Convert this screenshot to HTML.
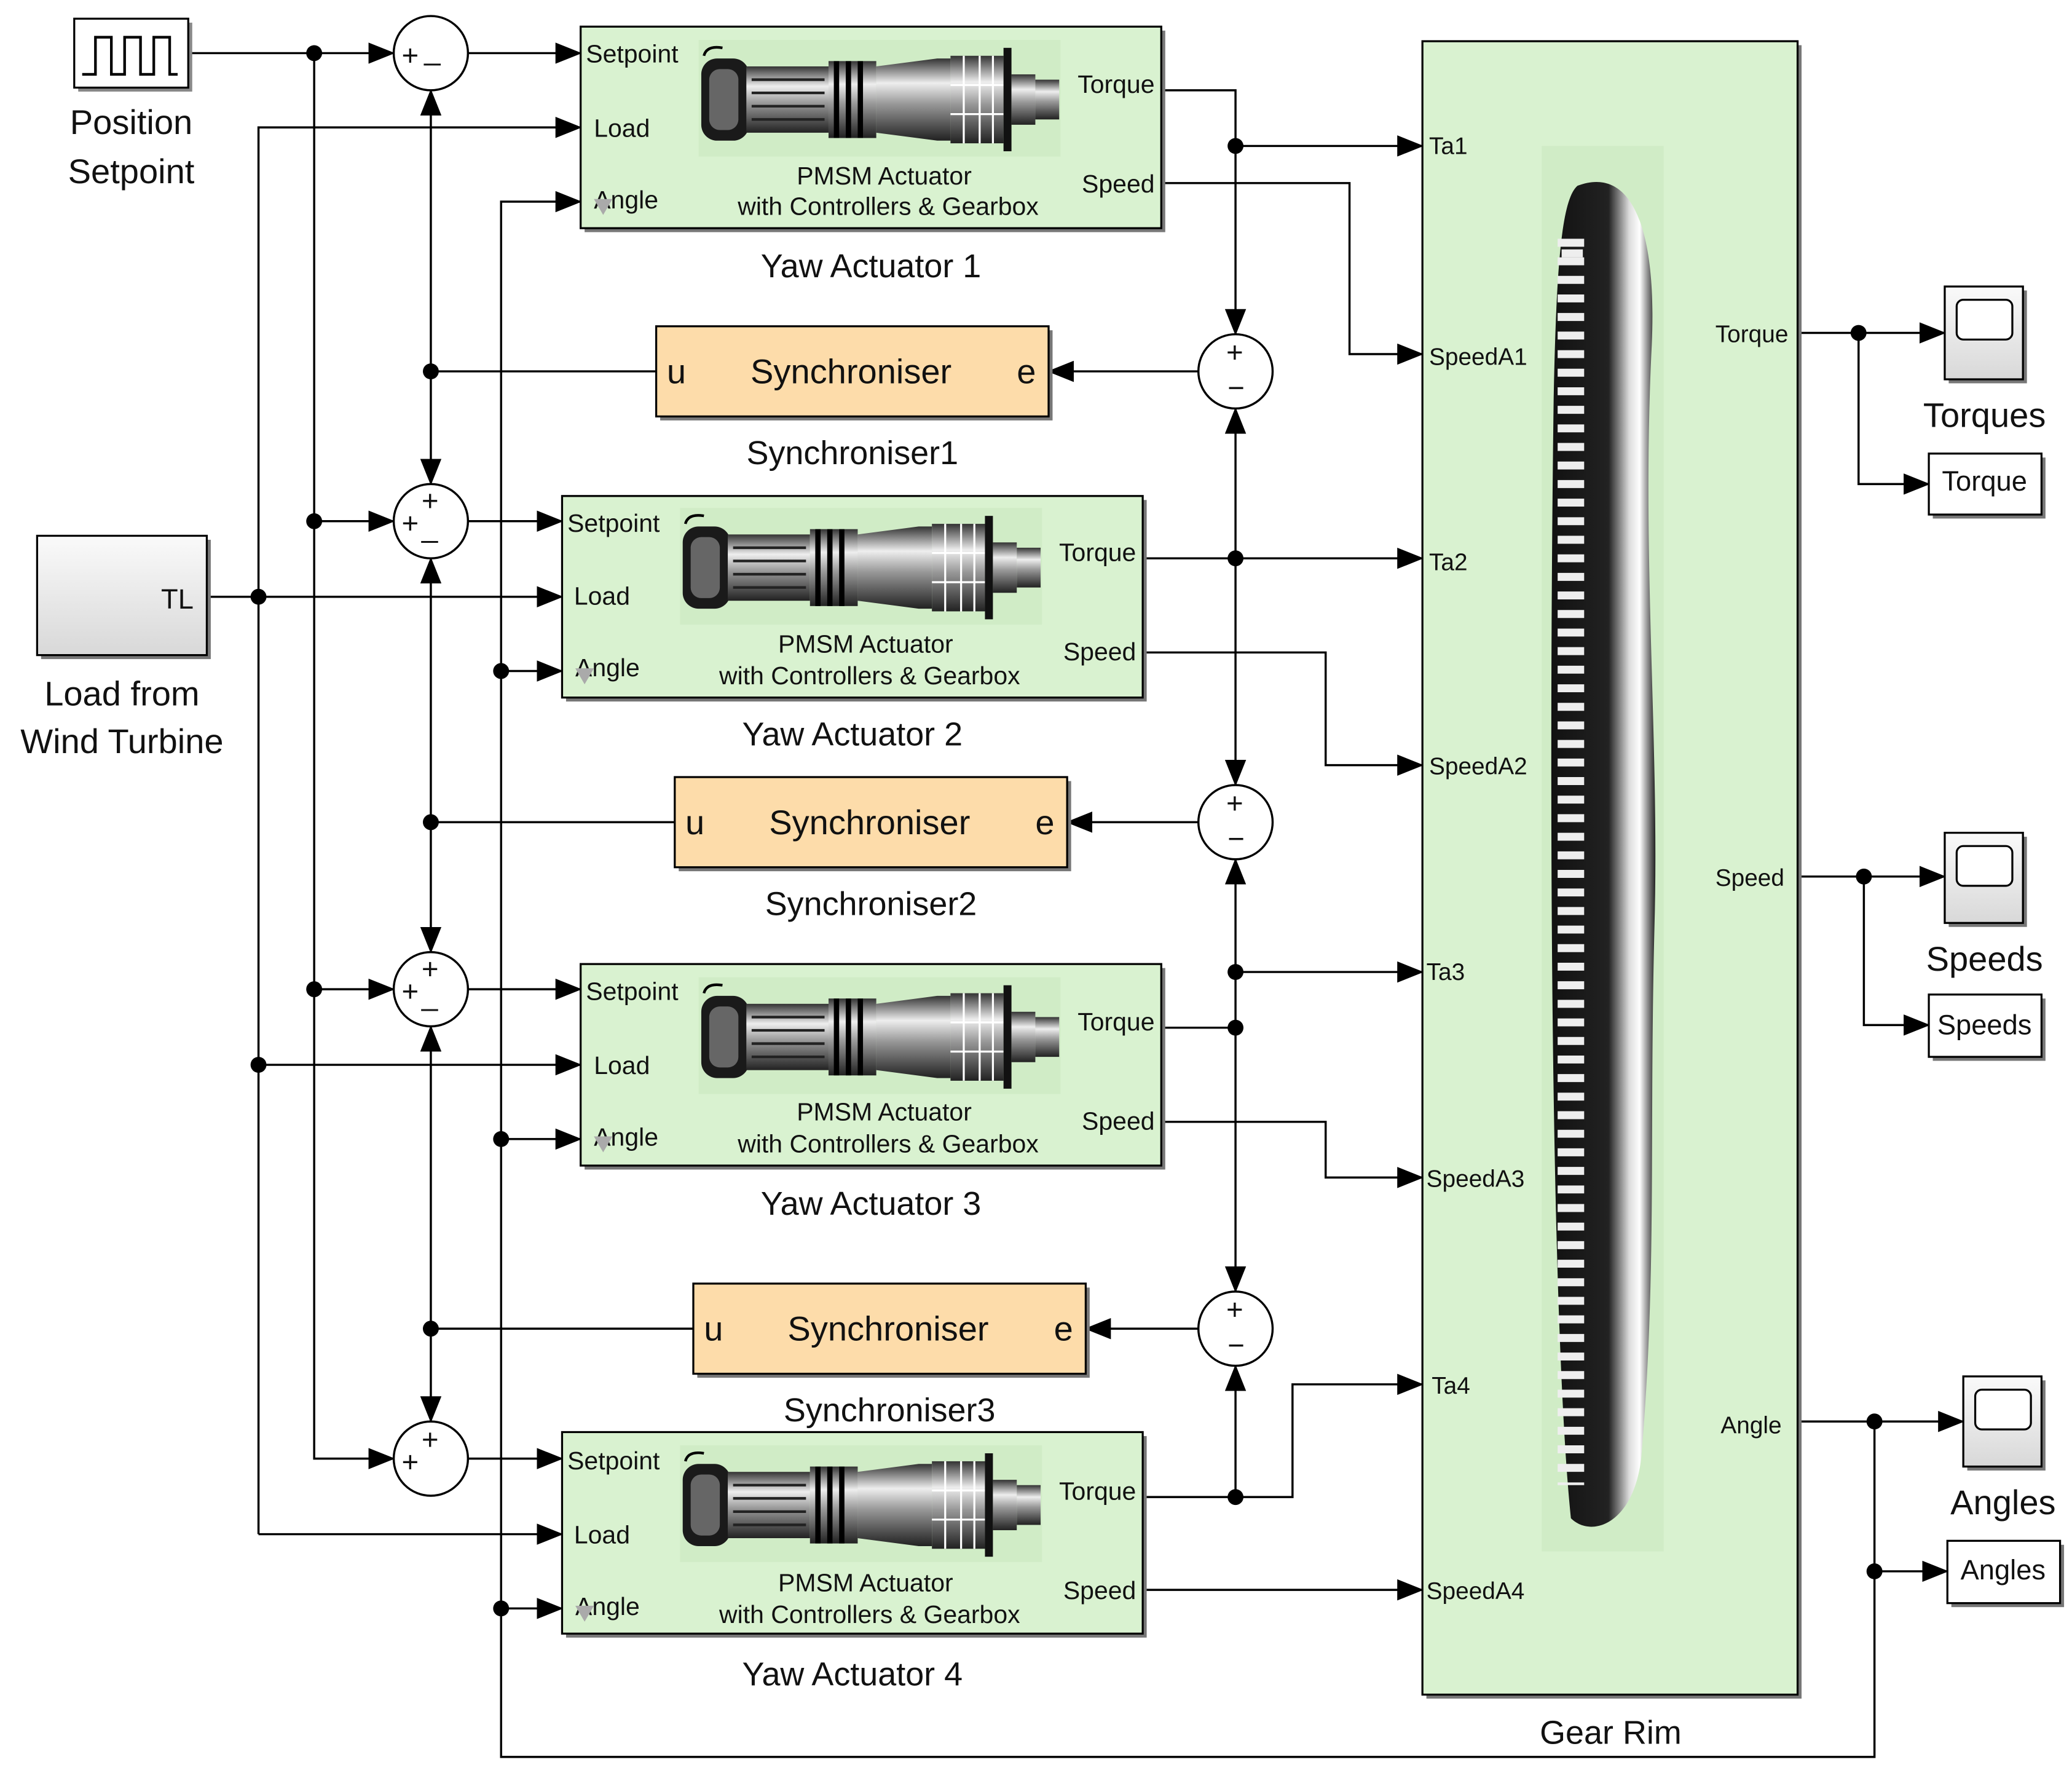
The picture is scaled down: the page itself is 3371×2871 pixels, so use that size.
<!DOCTYPE html>
<html><head><meta charset="utf-8"><style>
html,body{margin:0;padding:0;background:#fff;}
svg{display:block;}
text{font-family:"Liberation Sans",Arial,sans-serif;fill:#111;}
</style></head><body>
<svg width="3371" height="2871" viewBox="0 0 1563 1331" xmlns="http://www.w3.org/2000/svg">
<defs>
<marker id="a" markerWidth="20" markerHeight="16" refX="19" refY="8" orient="auto" markerUnits="userSpaceOnUse"><path d="M0,0 L20,8 L0,16 z" fill="#000"/></marker>
<linearGradient id="gb" x1="0" y1="0" x2="0" y2="1"><stop offset="0" stop-color="#fafafa"/><stop offset="1" stop-color="#d8d8d8"/></linearGradient>
<linearGradient id="cyl" x1="0" y1="0" x2="0" y2="1"><stop offset="0" stop-color="#333"/><stop offset="0.3" stop-color="#eee"/><stop offset="0.55" stop-color="#999"/><stop offset="1" stop-color="#222"/></linearGradient>
<linearGradient id="gear" x1="0" y1="0" x2="1" y2="0"><stop offset="0" stop-color="#111"/><stop offset="0.55" stop-color="#222"/><stop offset="0.75" stop-color="#ddd"/><stop offset="0.85" stop-color="#fff"/><stop offset="1" stop-color="#222"/></linearGradient>
<g id="motor">
<rect x="0" y="0" width="273" height="88" fill="#d0ecc6"/>
<rect x="2" y="14" width="36" height="62" rx="12" fill="#1a1a1a"/>
<rect x="8" y="22" width="22" height="46" rx="8" fill="#666"/>
<rect x="36" y="20" width="62" height="50" fill="url(#cyl)"/>
<g stroke="#222" stroke-width="2"><line x1="40" y1="30" x2="95" y2="30"/><line x1="40" y1="40" x2="95" y2="40"/><line x1="40" y1="50" x2="95" y2="50"/><line x1="40" y1="60" x2="95" y2="60"/></g>
<rect x="98" y="16" width="36" height="58" fill="url(#cyl)"/>
<g stroke="#000" stroke-width="4"><line x1="104" y1="16" x2="104" y2="74"/><line x1="113" y1="16" x2="113" y2="74"/><line x1="122" y1="16" x2="122" y2="74"/></g>
<path d="M134,20 L180,14 L190,14 L190,76 L180,76 L134,70 z" fill="url(#cyl)"/>
<rect x="190" y="12" width="40" height="66" fill="url(#cyl)"/>
<g stroke="#fff" stroke-width="1.5"><line x1="200" y1="12" x2="200" y2="78"/><line x1="212" y1="12" x2="212" y2="78"/><line x1="222" y1="12" x2="222" y2="78"/><line x1="190" y1="34" x2="230" y2="34"/><line x1="190" y1="56" x2="230" y2="56"/></g>
<rect x="230" y="6" width="6" height="78" fill="#111"/>
<rect x="236" y="26" width="18" height="38" fill="url(#cyl)"/>
<rect x="254" y="30" width="18" height="30" fill="url(#cyl)"/>
<path d="M4,12 Q6,4 18,6" stroke="#000" stroke-width="2" fill="none"/>
</g>
</defs>

<g stroke="#000" stroke-width="1.6" fill="none">
<!-- setpoint -->
<path d="M142,40 H297" marker-end="url(#a)"/>
<path d="M237,40 V1100 H297" marker-end="url(#a)"/>
<path d="M237,393 H297" marker-end="url(#a)"/>
<path d="M237,746 H297" marker-end="url(#a)"/>
<!-- sums to setpoint -->
<path d="M353,40 H438" marker-end="url(#a)"/>
<path d="M353,393 H424" marker-end="url(#a)"/>
<path d="M353,746 H438" marker-end="url(#a)"/>
<path d="M353,1100 H424" marker-end="url(#a)"/>
<!-- load -->
<path d="M156,450 H424" marker-end="url(#a)"/>
<path d="M195,1157 V96 H438" marker-end="url(#a)"/>
<path d="M195,803 H438" marker-end="url(#a)"/>
<path d="M195,1157 H424" marker-end="url(#a)"/>
<!-- angle -->
<path d="M1414,1074 V1325 H378 V152 H438" marker-end="url(#a)"/>
<path d="M378,506 H424" marker-end="url(#a)"/>
<path d="M378,859 H438" marker-end="url(#a)"/>
<path d="M378,1213 H424" marker-end="url(#a)"/>
<!-- sync outputs -->
<path d="M495,280 H325"/>
<path d="M325,280 V68" marker-end="url(#a)"/>
<path d="M325,280 V365" marker-end="url(#a)"/>
<path d="M509,620 H325"/>
<path d="M325,620 V421" marker-end="url(#a)"/>
<path d="M325,620 V718" marker-end="url(#a)"/>
<path d="M523,1002 H325"/>
<path d="M325,1002 V774" marker-end="url(#a)"/>
<path d="M325,1002 V1072" marker-end="url(#a)"/>
<!-- sum to sync -->
<path d="M904,280 H791" marker-end="url(#a)"/>
<path d="M904,620 H805" marker-end="url(#a)"/>
<path d="M904,1002 H819" marker-end="url(#a)"/>
<!-- torques -->
<path d="M876,68 H932 V252" marker-end="url(#a)"/>
<path d="M932,110 H1073" marker-end="url(#a)"/>
<path d="M862,421 H1073" marker-end="url(#a)"/>
<path d="M932,421 V308" marker-end="url(#a)"/>
<path d="M932,421 V592" marker-end="url(#a)"/>
<path d="M876,775 H932"/>
<path d="M932,733 H1073" marker-end="url(#a)"/>
<path d="M932,733 V648" marker-end="url(#a)"/>
<path d="M932,733 V974" marker-end="url(#a)"/>
<path d="M862,1129 H975 V1044 H1073" marker-end="url(#a)"/>
<path d="M932,1129 V1030" marker-end="url(#a)"/>
<!-- speeds -->
<path d="M876,138 H1018 V267 H1073" marker-end="url(#a)"/>
<path d="M862,492 H1000 V577 H1073" marker-end="url(#a)"/>
<path d="M876,846 H1000 V888 H1073" marker-end="url(#a)"/>
<path d="M862,1199 H1073" marker-end="url(#a)"/>
<!-- outputs -->
<path d="M1356,251 H1467" marker-end="url(#a)"/>
<path d="M1402,251 V365 H1455" marker-end="url(#a)"/>
<path d="M1356,661 H1467" marker-end="url(#a)"/>
<path d="M1406,661 V773 H1455" marker-end="url(#a)"/>
<path d="M1356,1072 H1481" marker-end="url(#a)"/>
<path d="M1414,1185 H1469" marker-end="url(#a)"/>
</g>
<g fill="#000">
<circle cx="237" cy="40" r="6"/><circle cx="237" cy="393" r="6"/><circle cx="237" cy="746" r="6"/>
<circle cx="195" cy="450" r="6"/><circle cx="195" cy="803" r="6"/>
<circle cx="378" cy="506" r="6"/><circle cx="378" cy="859" r="6"/><circle cx="378" cy="1213" r="6"/>
<circle cx="325" cy="280" r="6"/><circle cx="325" cy="620" r="6"/><circle cx="325" cy="1002" r="6"/>
<circle cx="932" cy="110" r="6"/><circle cx="932" cy="421" r="6"/><circle cx="932" cy="733" r="6"/><circle cx="932" cy="775" r="6"/><circle cx="932" cy="1129" r="6"/>
<circle cx="1402" cy="251" r="6"/><circle cx="1406" cy="661" r="6"/><circle cx="1414" cy="1072" r="6"/><circle cx="1414" cy="1185" r="6"/>
</g>

<!-- Pulse gen -->
<rect x="59" y="17" width="86" height="52" fill="#888"/>
<rect x="56" y="14" width="86" height="52" fill="#fff" stroke="#000" stroke-width="1.5"/>
<path d="M62,56 H72 V28 H84 V56 H94 V28 H106 V56 H116 V28 H128 V56 H134" stroke="#000" stroke-width="2" fill="none"/>
<text x="99" y="101" font-size="26" text-anchor="middle">Position</text>
<text x="99" y="138" font-size="26" text-anchor="middle">Setpoint</text>
<!-- TL -->
<rect x="31" y="407" width="128" height="90" fill="#777"/>
<rect x="28" y="404" width="128" height="90" fill="url(#gb)" stroke="#000" stroke-width="1.5"/>
<text x="146" y="459" font-size="21" text-anchor="end">TL</text>
<text x="92" y="532" font-size="26" text-anchor="middle">Load from</text>
<text x="92" y="568" font-size="26" text-anchor="middle">Wind Turbine</text>

<!-- sums -->
<g fill="#fff" stroke="#000" stroke-width="1.6">
<circle cx="325" cy="40" r="28"/><circle cx="325" cy="393" r="28"/><circle cx="325" cy="746" r="28"/><circle cx="325" cy="1100" r="28"/>
<circle cx="932" cy="280" r="28"/><circle cx="932" cy="620" r="28"/><circle cx="932" cy="1002" r="28"/>
</g>
<g font-size="22">
<text x="303" y="49">+</text><text x="320" y="45">_</text>
<text x="303" y="402">+</text><text x="318" y="385">+</text><text x="318" y="405">_</text>
<text x="303" y="755">+</text><text x="318" y="738">+</text><text x="318" y="758">_</text>
<text x="303" y="1110">+</text><text x="318" y="1093">+</text>
<text x="925" y="273">+</text><text x="926" y="300">−</text>
<text x="925" y="613">+</text><text x="926" y="640">−</text>
<text x="925" y="995">+</text><text x="926" y="1022">−</text>
</g>

<!-- actuators -->
<g>
<rect x="441" y="23" width="438" height="152" fill="#777"/>
<rect x="438" y="20" width="438" height="152" fill="#d9f2d0" stroke="#000" stroke-width="1.5"/>
<use href="#motor" x="527" y="30"/>
<rect x="427" y="377" width="438" height="152" fill="#777"/>
<rect x="424" y="374" width="438" height="152" fill="#d9f2d0" stroke="#000" stroke-width="1.5"/>
<use href="#motor" x="513" y="383"/>
<rect x="441" y="730" width="438" height="152" fill="#777"/>
<rect x="438" y="727" width="438" height="152" fill="#d9f2d0" stroke="#000" stroke-width="1.5"/>
<use href="#motor" x="527" y="737"/>
<rect x="427" y="1083" width="438" height="152" fill="#777"/>
<rect x="424" y="1080" width="438" height="152" fill="#d9f2d0" stroke="#000" stroke-width="1.5"/>
<use href="#motor" x="513" y="1090"/>
</g>
<g font-size="19">
<text x="442" y="47">Setpoint</text><text x="448" y="103">Load</text><text x="448" y="157">Angle</text>
<text x="871" y="70" text-anchor="end">Torque</text><text x="871" y="145" text-anchor="end">Speed</text>
<text x="667" y="139" text-anchor="middle">PMSM Actuator</text><text x="670" y="162" text-anchor="middle">with Controllers &amp; Gearbox</text>
<text x="428" y="401">Setpoint</text><text x="433" y="456">Load</text><text x="434" y="510">Angle</text>
<text x="857" y="423" text-anchor="end">Torque</text><text x="857" y="498" text-anchor="end">Speed</text>
<text x="653" y="492" text-anchor="middle">PMSM Actuator</text><text x="656" y="516" text-anchor="middle">with Controllers &amp; Gearbox</text>
<text x="442" y="754">Setpoint</text><text x="448" y="810">Load</text><text x="448" y="864">Angle</text>
<text x="871" y="777" text-anchor="end">Torque</text><text x="871" y="852" text-anchor="end">Speed</text>
<text x="667" y="845" text-anchor="middle">PMSM Actuator</text><text x="670" y="869" text-anchor="middle">with Controllers &amp; Gearbox</text>
<text x="428" y="1108">Setpoint</text><text x="433" y="1164">Load</text><text x="434" y="1218">Angle</text>
<text x="857" y="1131" text-anchor="end">Torque</text><text x="857" y="1206" text-anchor="end">Speed</text>
<text x="653" y="1200" text-anchor="middle">PMSM Actuator</text><text x="656" y="1224" text-anchor="middle">with Controllers &amp; Gearbox</text>
</g>
<g fill="#aaa">
<path d="M448,150 h14 l-7,12 z"/><path d="M434,504 h14 l-7,12 z"/><path d="M448,857 h14 l-7,12 z"/><path d="M434,1211 h14 l-7,12 z"/>
<path d="M505,292 h14 l-7,12 z"/><path d="M519,632 h14 l-7,12 z"/><path d="M533,1014 h14 l-7,12 z"/><path d="M1085,1256 h14 l-7,12 z"/>
</g>
<g font-size="25" text-anchor="middle">
<text x="657" y="209">Yaw Actuator 1</text>
<text x="643" y="562">Yaw Actuator 2</text>
<text x="657" y="916">Yaw Actuator 3</text>
<text x="643" y="1271">Yaw Actuator 4</text>
<text x="643" y="350">Synchroniser1</text>
<text x="657" y="690">Synchroniser2</text>
<text x="671" y="1072">Synchroniser3</text>
<text x="1215" y="1315">Gear Rim</text>
</g>

<!-- synchronisers -->
<rect x="498" y="249" width="296" height="68" fill="#777"/>
<rect x="495" y="246" width="296" height="68" fill="#fddcaa" stroke="#000" stroke-width="1.5"/>
<rect x="512" y="589" width="296" height="68" fill="#777"/>
<rect x="509" y="586" width="296" height="68" fill="#fddcaa" stroke="#000" stroke-width="1.5"/>
<rect x="526" y="971" width="296" height="68" fill="#777"/>
<rect x="523" y="968" width="296" height="68" fill="#fddcaa" stroke="#000" stroke-width="1.5"/>
<g font-size="26">
<text x="503" y="289">u</text><text x="642" y="289" text-anchor="middle">Synchroniser</text><text x="767" y="289">e</text>
<text x="517" y="629">u</text><text x="656" y="629" text-anchor="middle">Synchroniser</text><text x="781" y="629">e</text>
<text x="531" y="1011">u</text><text x="670" y="1011" text-anchor="middle">Synchroniser</text><text x="795" y="1011">e</text>
</g>

<!-- gear rim -->
<rect x="1076" y="34" width="283" height="1247" fill="#777"/>
<rect x="1073" y="31" width="283" height="1247" fill="#d9f2d0" stroke="#000" stroke-width="1.5"/>
<rect x="1163" y="110" width="92" height="1060" fill="#d0ecc6"/>
<path d="M1190,140 C1230,125 1250,170 1246,260 C1238,420 1252,560 1248,700 C1244,860 1250,960 1238,1100 C1232,1150 1200,1160 1185,1145 C1170,1000 1168,600 1172,300 C1174,200 1178,150 1190,140 z" fill="url(#gear)"/>
<g fill="#eee">
<rect x="1178" y="188" width="16" height="6"/>
</g>
<g stroke="#eee" stroke-width="5" stroke-dasharray="6,8">
<line x1="1185" y1="180" x2="1185" y2="1120" stroke-width="20"/>
</g>
<g font-size="18">
<text x="1078" y="116">Ta1</text><text x="1078" y="275">SpeedA1</text>
<text x="1078" y="430">Ta2</text><text x="1078" y="584">SpeedA2</text>
<text x="1076" y="739">Ta3</text><text x="1076" y="895">SpeedA3</text>
<text x="1080" y="1051">Ta4</text><text x="1076" y="1206">SpeedA4</text>
<text x="1349" y="258" text-anchor="end">Torque</text>
<text x="1346" y="668" text-anchor="end">Speed</text>
<text x="1344" y="1081" text-anchor="end">Angle</text>
</g>

<!-- scopes -->
<g>
<rect x="1470" y="219" width="59" height="70" fill="#777"/>
<rect x="1467" y="216" width="59" height="70" fill="url(#gb)" stroke="#000" stroke-width="1.5"/>
<rect x="1476" y="226" width="42" height="30" rx="5" fill="#fff" stroke="#000" stroke-width="1.5"/>
<rect x="1470" y="631" width="59" height="68" fill="#777"/>
<rect x="1467" y="628" width="59" height="68" fill="url(#gb)" stroke="#000" stroke-width="1.5"/>
<rect x="1476" y="638" width="42" height="30" rx="5" fill="#fff" stroke="#000" stroke-width="1.5"/>
<rect x="1484" y="1041" width="59" height="68" fill="#777"/>
<rect x="1481" y="1038" width="59" height="68" fill="url(#gb)" stroke="#000" stroke-width="1.5"/>
<rect x="1490" y="1048" width="42" height="30" rx="5" fill="#fff" stroke="#000" stroke-width="1.5"/>
<rect x="1458" y="345" width="85" height="46" fill="#777"/>
<rect x="1455" y="342" width="85" height="46" fill="#fff" stroke="#000" stroke-width="1.5"/>
<rect x="1458" y="753" width="85" height="47" fill="#777"/>
<rect x="1455" y="750" width="85" height="47" fill="#fff" stroke="#000" stroke-width="1.5"/>
<rect x="1472" y="1165" width="85" height="47" fill="#777"/>
<rect x="1469" y="1162" width="85" height="47" fill="#fff" stroke="#000" stroke-width="1.5"/>
</g>
<g font-size="21" text-anchor="middle">
<text x="1497" y="370">Torque</text>
<text x="1497" y="780">Speeds</text>
<text x="1511" y="1191">Angles</text>
</g>
<g font-size="26" text-anchor="middle">
<text x="1497" y="322">Torques</text>
<text x="1497" y="732">Speeds</text>
<text x="1511" y="1142">Angles</text>
</g>
</svg>
</body></html>
